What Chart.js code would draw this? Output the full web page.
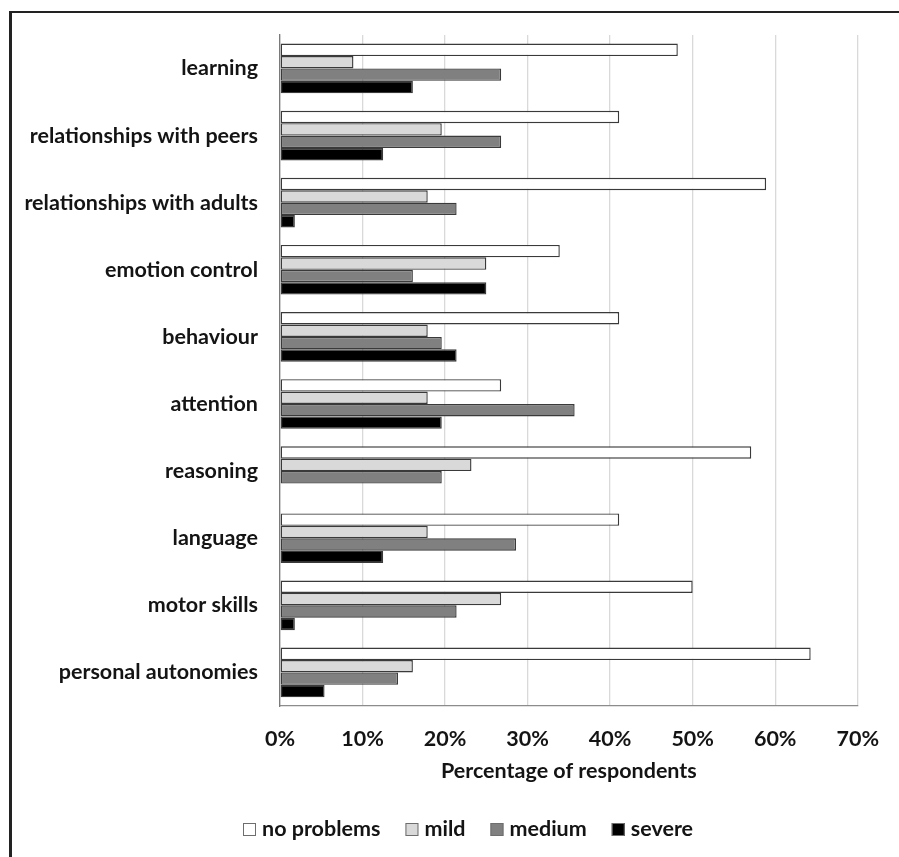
<!DOCTYPE html>
<html>
<head>
<meta charset="utf-8">
<script src="https://cdn.jsdelivr.net/npm/chart.js@4.4.0/dist/chart.umd.min.js"></script>
<style>
  html, body { margin: 0; padding: 0; background: #ffffff; }
  #wrap { position: relative; width: 899px; height: 857px; }
</style>
</head>
<body>
<div id="wrap"><canvas id="chart" width="899" height="857"></canvas></div>
<script>
// Problem areas (top to bottom)
const categories = [
  'learning',
  'relationships with peers',
  'relationships with adults',
  'emotion control',
  'behaviour',
  'attention',
  'reasoning',
  'language',
  'motor skills',
  'personal autonomies'
];

// Share of respondents (%) per severity level
const noProblems = [48.2, 41.1, 58.9, 33.9, 41.1, 26.8, 57.1, 41.1, 50.0, 64.3];
const mild       = [ 8.9, 19.6, 17.9, 25.0, 17.9, 17.9, 23.2, 17.9, 26.8, 16.1];
const medium     = [26.8, 26.8, 21.4, 16.1, 19.6, 35.7, 19.6, 28.6, 21.4, 14.3];
const severe     = [16.1, 12.5,  1.8, 25.0, 21.4, 19.6,  0.0, 12.5,  1.8,  5.4];

const seriesNames = ['no problems', 'mild', 'medium', 'severe'];
const seriesFills = ['#ffffff', '#d9d9d9', '#808080', '#000000'];

const xTicks = [0, 10, 20, 30, 40, 50, 60, 70];
const xTitle = 'Percentage of respondents';

const FONT = 'Lato, "Liberation Sans", sans-serif';
const FONT_SIZE = 21.5;
const EDGE = '#3a3a3a';

const seriesValues = [noProblems, mild, medium, severe];
const datasets = seriesNames.map((name, i) => ({
  label: name,
  data: seriesValues[i],
  backgroundColor: seriesFills[i],
  borderColor: EDGE,
  borderWidth: c => (c.raw === 0 ? 0 : 1.4),
  borderSkipped: false,
  categoryPercentage: 0.74,
  barPercentage: 1.0
}));

// Frame on the left and top edges
const framePlugin = {
  id: 'frame',
  beforeDraw(chart) {
    const ctx = chart.ctx;
    ctx.save();
    ctx.strokeStyle = '#222222';
    ctx.lineWidth = 3;
    ctx.beginPath();
    ctx.moveTo(10.5, 11);
    ctx.lineTo(10.5, chart.height);
    ctx.stroke();
    ctx.lineWidth = 2;
    ctx.beginPath();
    ctx.moveTo(9, 12);
    ctx.lineTo(chart.width, 12);
    ctx.stroke();
    ctx.restore();
  }
};

// Legend row below the axis title
const legendPlugin = {
  id: 'boxLegend',
  afterDraw(chart) {
    const ctx = chart.ctx;
    ctx.save();
    ctx.font = 'bold ' + FONT_SIZE + 'px ' + FONT;
    ctx.textBaseline = 'middle';
    ctx.textAlign = 'left';
    let x = 243;
    const y = 829.5;
    const box = 13;
    chart.data.datasets.forEach(ds => {
      ctx.fillStyle = ds.backgroundColor;
      ctx.fillRect(x, y - box / 2, box, box);
      ctx.strokeStyle = '#6e6e6e';
      ctx.lineWidth = 1;
      ctx.strokeRect(x + 0.5, y - box / 2 + 0.5, box - 1, box - 1);
      x += box + 6;
      ctx.fillStyle = '#141414';
      ctx.fillText(ds.label, x, y);
      x += ctx.measureText(ds.label).width + 25;
    });
    ctx.restore();
  }
};

new Chart(document.getElementById('chart'), {
  type: 'bar',
  data: { labels: categories, datasets },
  options: {
    indexAxis: 'y',
    responsive: false,
    animation: false,
    layout: { padding: { top: 34, right: 37, left: 0, bottom: 61 } },
    plugins: {
      legend: { display: false },
      tooltip: { enabled: false }
    },
    scales: {
      x: {
        min: 0,
        max: 70,
        afterBuildTicks(scale) {
          scale.ticks = xTicks.map(v => ({ value: v }));
        },
        afterFit(scale) { scale.height = 90; },
        grid: { color: '#d9d9d9', lineWidth: 1.3, drawTicks: false },
        border: { display: true, color: '#8c8c8c', width: 1.3 },
        ticks: {
          padding: 20,
          color: '#141414',
          font: { family: FONT, size: FONT_SIZE, weight: 'bold' },
          callback: v => v + '%'
        },
        title: {
          display: true,
          text: xTitle,
          color: '#141414',
          font: { family: FONT, size: FONT_SIZE, weight: 'bold' },
          padding: { top: 0, bottom: 12 }
        }
      },
      y: {
        afterFit(scale) { scale.width = 280; },
        grid: { display: false, drawTicks: false },
        border: { display: true, color: '#7a7a7a', width: 1.3 },
        ticks: {
          padding: 22,
          color: '#141414',
          font: { family: FONT, size: FONT_SIZE, weight: 'bold' }
        }
      }
    }
  },
  plugins: [framePlugin, legendPlugin]
});
</script>
</body>
</html>
